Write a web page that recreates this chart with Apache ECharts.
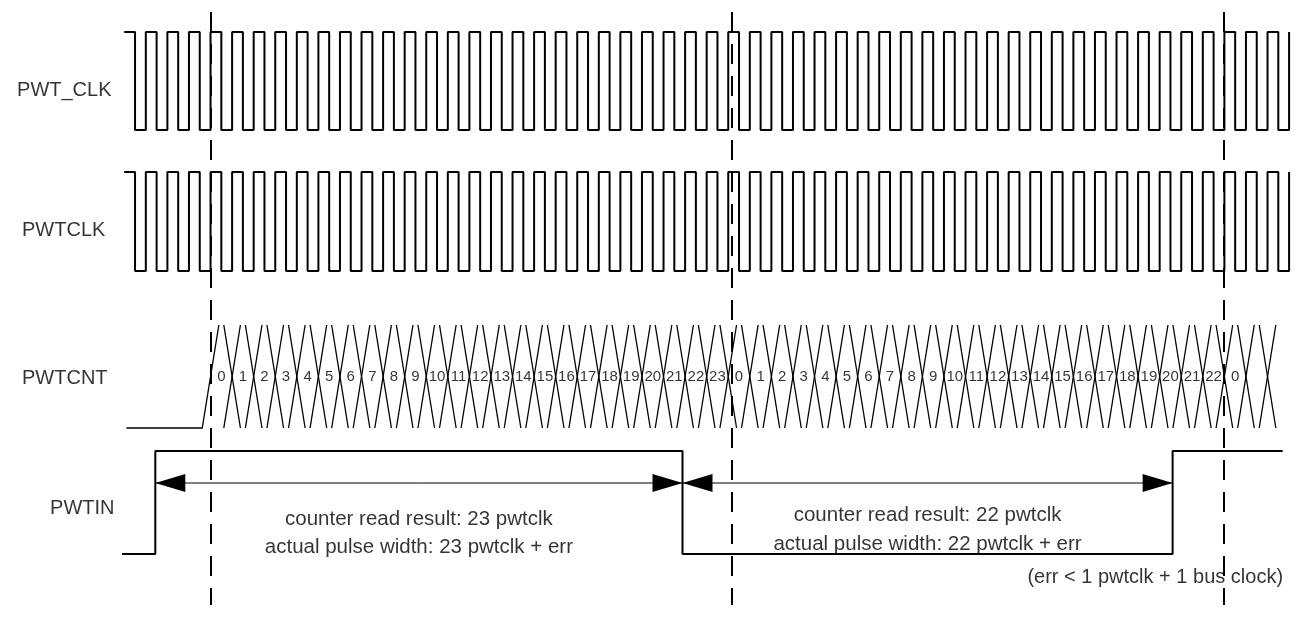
<!DOCTYPE html>
<html>
<head>
<meta charset="utf-8">
<title>PWT timing</title>
<script src="https://cdn.jsdelivr.net/npm/echarts@6/dist/echarts.min.js"></script>
<style>
  html, body { margin: 0; padding: 0; background: #fff; }
  #chart { width: 1296px; height: 619px; }
</style>
</head>
<body>
<div id="chart"></div>
<script>
// time is counted in pwtclk periods, t = 0 on the first counter edge
const T_MIN = -9.76
const T_MAX = 50.32

const SIGNAL_NAMES = ['PWT_CLK', 'PWTCLK', 'PWTCNT', 'PWTIN']

// both clocks: high at start, rising edge on every whole period
const CLK_START = -4
const CLK_END = 50

// counter value held in each period, starting at t = 0
const CNT_START = -3.9
const CNT_VALUES = [
  0, 1, 2, 3, 4, 5, 6, 7, 8, 9, 10, 11, 12, 13, 14, 15, 16, 17, 18, 19, 20, 21, 22, 23,
  0, 1, 2, 3, 4, 5, 6, 7, 8, 9, 10, 11, 12, 13, 14, 15, 16, 17, 18, 19, 20, 21, 22,
  0,
]
const CNT_LAST_EDGE = 49

// PWTIN: low, then edges (rise, fall, rise)
const PWTIN_START = -4.1
const PWTIN_EDGES = [-2.56, 21.88, 44.6]
const PWTIN_END = 49.7

// dashed reference lines
const MARKERS = [0, 24.15, 46.95]

const READ_RESULTS = [23, 22]
const NOTE = '(err < 1 pwtclk + 1 bus clock)'

// ---- layout (y runs top-down, one unit per pixel row) ----
const Y_MAX = 619
const LANES = [
  { hi: 32, lo: 130, nameX: -8.97, nameY: 90 },
  { hi: 172, lo: 271, nameX: -8.74, nameY: 230 },
  { hi: 325, lo: 428, nameX: -8.74, nameY: 378 },
  { hi: 451, lo: 554, nameX: -7.44, nameY: 508 },
]
const X_HALF = 0.385         // half width of a counter transition
const ARROW_Y = 483
const ARROW_LEN = 30
const ARROW_HALF = 9
const PULSE_TEXT_Y = [[519, 547], [515, 544]]
const MARK_TOP = 12
const MARK_BOTTOM = 605
const FONT = '"Liberation Sans", Arial, Helvetica, sans-serif'
const INK = '#000'

function clockPoints(lane) {
  const pts = [[CLK_START, lane.hi]]
  for (let t = CLK_START; t < CLK_END; t++) {
    pts.push([t + 0.5, lane.hi], [t + 0.5, lane.lo], [t + 1, lane.lo], [t + 1, lane.hi])
  }
  return pts
}

function pwtinPoints(lane) {
  const pts = [[PWTIN_START, lane.lo]]
  let level = lane.lo
  PWTIN_EDGES.forEach(t => {
    pts.push([t, level])
    level = level === lane.lo ? lane.hi : lane.lo
    pts.push([t, level])
  })
  pts.push([PWTIN_END, level])
  return pts
}

function counterSegments(lane) {
  const segs = [{ coords: [[CNT_START, lane.lo], [-X_HALF, lane.lo], [X_HALF, lane.hi]] }]
  for (let k = 1; k <= CNT_LAST_EDGE; k++) {
    segs.push({ coords: [[k - X_HALF, lane.hi], [k + X_HALF, lane.lo]] })
    segs.push({ coords: [[k - X_HALF, lane.lo], [k + X_HALF, lane.hi]] })
  }
  return segs
}

// double headed dimension arrow, heads drawn in pixels
function renderArrow(params, api) {
  const p1 = api.coord([api.value(0), api.value(2)])
  const p2 = api.coord([api.value(1), api.value(2)])
  const y = p1[1]
  return {
    type: 'group',
    children: [
      {
        type: 'line',
        shape: { x1: p1[0], y1: y, x2: p2[0], y2: y },
        style: { stroke: INK, lineWidth: 1 },
      },
      {
        type: 'polygon',
        shape: { points: [[p1[0], y], [p1[0] + ARROW_LEN, y - ARROW_HALF], [p1[0] + ARROW_LEN, y + ARROW_HALF]] },
        style: { fill: INK },
      },
      {
        type: 'polygon',
        shape: { points: [[p2[0], y], [p2[0] - ARROW_LEN, y - ARROW_HALF], [p2[0] - ARROW_LEN, y + ARROW_HALF]] },
        style: { fill: INK },
      },
    ],
  }
}

function textSeries(data, fontSize, align) {
  return {
    type: 'scatter',
    symbolSize: 0,
    silent: true,
    data,
    label: {
      show: true,
      position: 'inside',
      align: align || 'center',
      verticalAlign: 'middle',
      color: INK,
      fontFamily: FONT,
      fontSize,
      formatter: p => p.value[2],
    },
    z: 5,
  }
}

function waveSeries(points, width) {
  return {
    type: 'line',
    data: points,
    symbol: 'none',
    silent: true,
    lineStyle: { color: INK, width: width || 2 },
  }
}

function buildOption() {
  const cnt = LANES[2]
  const pin = LANES[3]

  const cntLabels = CNT_VALUES.map((v, i) => [i + 0.5, (cnt.hi + cnt.lo) / 2, String(v)])
  const names = SIGNAL_NAMES.map((n, i) => [LANES[i].nameX, LANES[i].nameY, n])

  const spans = [[PWTIN_EDGES[0], PWTIN_EDGES[1]], [PWTIN_EDGES[1], PWTIN_EDGES[2]]]
  const pulseText = []
  spans.forEach(([a, b], i) => {
    const mid = (a + b) / 2
    pulseText.push([mid, PULSE_TEXT_Y[i][0], 'counter read result: ' + READ_RESULTS[i] + ' pwtclk'])
    pulseText.push([mid, PULSE_TEXT_Y[i][1], 'actual pulse width: ' + READ_RESULTS[i] + ' pwtclk + err'])
  })

  return {
    animation: false,
    backgroundColor: '#fff',
    grid: { left: 0, right: 0, top: 0, bottom: 0 },
    xAxis: { type: 'value', min: T_MIN, max: T_MAX, show: false },
    yAxis: { type: 'value', min: 0, max: Y_MAX, inverse: true, show: false },
    series: [
      waveSeries(clockPoints(LANES[0])),
      waveSeries(clockPoints(LANES[1])),
      waveSeries(pwtinPoints(pin)),
      {
        type: 'lines',
        coordinateSystem: 'cartesian2d',
        polyline: true,
        silent: true,
        data: counterSegments(cnt),
        lineStyle: { color: INK, width: 1.3, opacity: 1 },
      },
      {
        type: 'custom',
        silent: true,
        renderItem: renderArrow,
        encode: { x: [0, 1], y: 2 },
        data: spans.map(([a, b]) => [a, b, ARROW_Y]),
      },
      {
        type: 'lines',
        coordinateSystem: 'cartesian2d',
        silent: true,
        data: MARKERS.map(t => ({ coords: [[t, MARK_TOP], [t, MARK_BOTTOM]] })),
        lineStyle: { color: INK, width: 2, type: [20, 12], opacity: 1 },
        z: 4,
      },
      textSeries(cntLabels, 15),
      textSeries(names, 20, 'left'),
      textSeries(pulseText, 20.5),
      textSeries([[49.72, 577, NOTE]], 20, 'right'),
    ],
  }
}

const chart = echarts.init(document.getElementById('chart'), null, { renderer: 'canvas' })
chart.setOption(buildOption())
</script>
</body>
</html>
